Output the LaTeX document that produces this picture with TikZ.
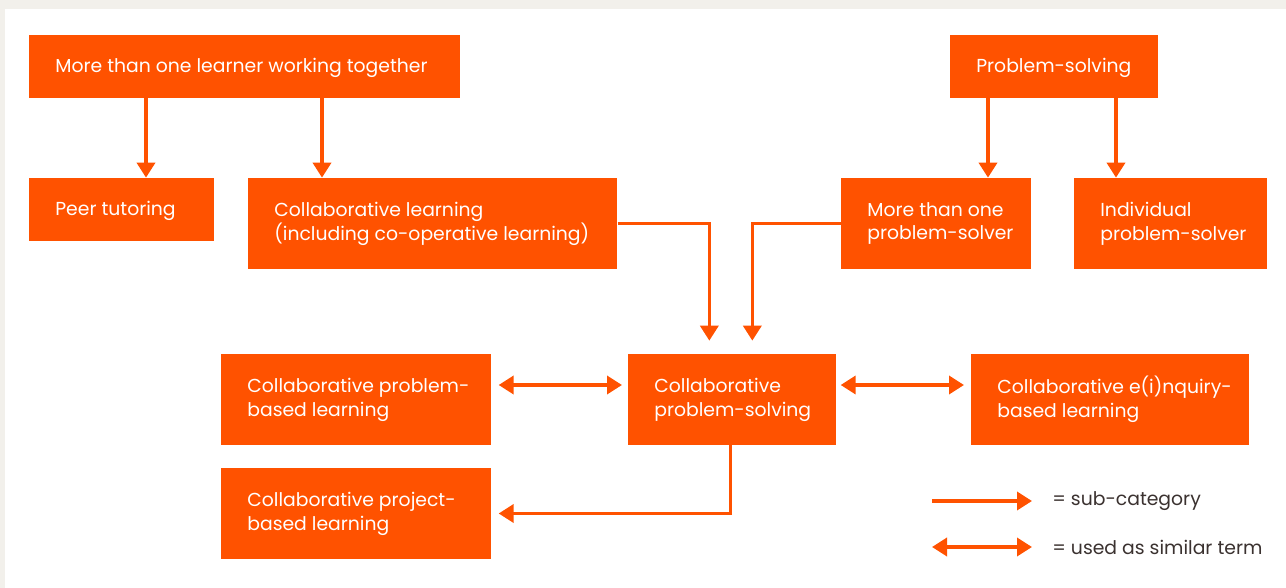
\documentclass[tikz,border=0pt]{standalone}
\usepackage{fontspec}
\setmainfont{Poppins}
\usetikzlibrary{arrows.meta,positioning}

\definecolor{brandorange}{HTML}{FF5200}
\definecolor{paper}{HTML}{F2F0EB}
\definecolor{inkbrown}{HTML}{3B3230}

\begin{document}
\begin{tikzpicture}[
    x=0.02cm, y=-0.02cm,
    box/.style={fill=brandorange, draw=none, anchor=west, inner sep=0pt, minimum height=1.82cm},
    lowbox/.style={box, minimum height=1.26cm},
    boxtext/.style={text=white, anchor=west, align=left, inner sep=0pt, xshift=0.52cm,
        font=\fontsize{10.7}{13.6}\selectfont},
    arr/.style={draw=brandorange, line width=2pt, -{Triangle[length=0.3cm, width=0.36cm]}},
    twoarr/.style={arr, {Triangle[length=0.3cm, width=0.36cm]}-{Triangle[length=0.3cm, width=0.36cm]}},
    legendtext/.style={text=inkbrown, anchor=west, inner sep=0pt, font=\fontsize{10.7}{13.6}\selectfont}
]
% background
\fill[paper] (0,0) rectangle (1286,588);
\fill[white] (5,9) rectangle (1286,588);

% top row
\node[lowbox, minimum width=8.62cm, label={[boxtext, yshift=-0.03cm]west:More than one learner working together}] (learners) at (29,66.5) {};
\node[lowbox, minimum width=4.16cm, label={[boxtext, yshift=-0.03cm]west:Problem-solving}] (problemsolving) at (950,66.5) {};

% second row
\node[lowbox, minimum width=3.70cm, label={[boxtext, yshift=-0.03cm]west:Peer tutoring}] (peer) at (29,209.5) {};
\node[box, minimum width=7.38cm, label={[boxtext]west:Collaborative learning\\(including co-operative learning)}] (colllearning) at (248,223.5) {};
\node[box, minimum width=3.80cm, label={[boxtext]west:More than one\\problem-solver}] (manysolvers) at (841,223.5) {};
\node[box, minimum width=3.86cm, label={[boxtext]west:Individual\\problem-solver}] (individual) at (1074,223.5) {};

% third row
\node[box, minimum width=5.40cm, label={[boxtext]west:Collaborative problem-\\based learning}] (problembased) at (221,399.5) {};
\node[box, minimum width=4.16cm, label={[boxtext]west:Collaborative\\problem-solving}] (cps) at (628,399.5) {};
\node[box, minimum width=5.56cm, label={[boxtext]west:Collaborative e(i)nquiry-\\based learning}] (inquiry) at (971,399.5) {};
\node[box, minimum width=5.40cm, label={[boxtext]west:Collaborative project-\\based learning}] (projectbased) at (221,513.5) {};

% arrows
\draw[arr] (learners.south -| 146,0) -- (peer.north -| 146,0);
\draw[arr] (learners.south -| 322,0) -- (colllearning.north -| 322,0);
\draw[arr] (problemsolving.south -| 988,0) -- (manysolvers.north -| 988,0);
\draw[arr] (problemsolving.south -| 1116,0) -- (individual.north -| 1116,0);
\draw[arr] (colllearning.east) -| ([xshift=-0.46cm, yshift=0.26cm]cps.north);
\draw[arr] (manysolvers.west) -| ([xshift=0.4cm, yshift=0.26cm]cps.north);
\draw[twoarr] ([xshift=0.14cm, yshift=0.29cm]problembased.east) -- ([xshift=-0.12cm, yshift=0.29cm]cps.west);
\draw[twoarr] ([xshift=0.08cm, yshift=0.29cm]cps.east) -- ([xshift=-0.14cm, yshift=0.29cm]inquiry.west);
\draw[arr] ([xshift=-0.04cm]cps.south) |- ([xshift=0.14cm]projectbased.east);

% legend
\coordinate (subA) at (932,501);
\coordinate (subB) at (1032,501);
\coordinate (simA) at (932,547);
\coordinate (simB) at (1032,547);
\draw[arr] (subA) -- (subB);
\draw[twoarr] (simA) -- (simB);
\node[legendtext] (sublabel) at (1052,501) {= sub-category};
\node[legendtext] (simlabel) at (1052,547) {= used as similar term};
\end{tikzpicture}
\end{document}
